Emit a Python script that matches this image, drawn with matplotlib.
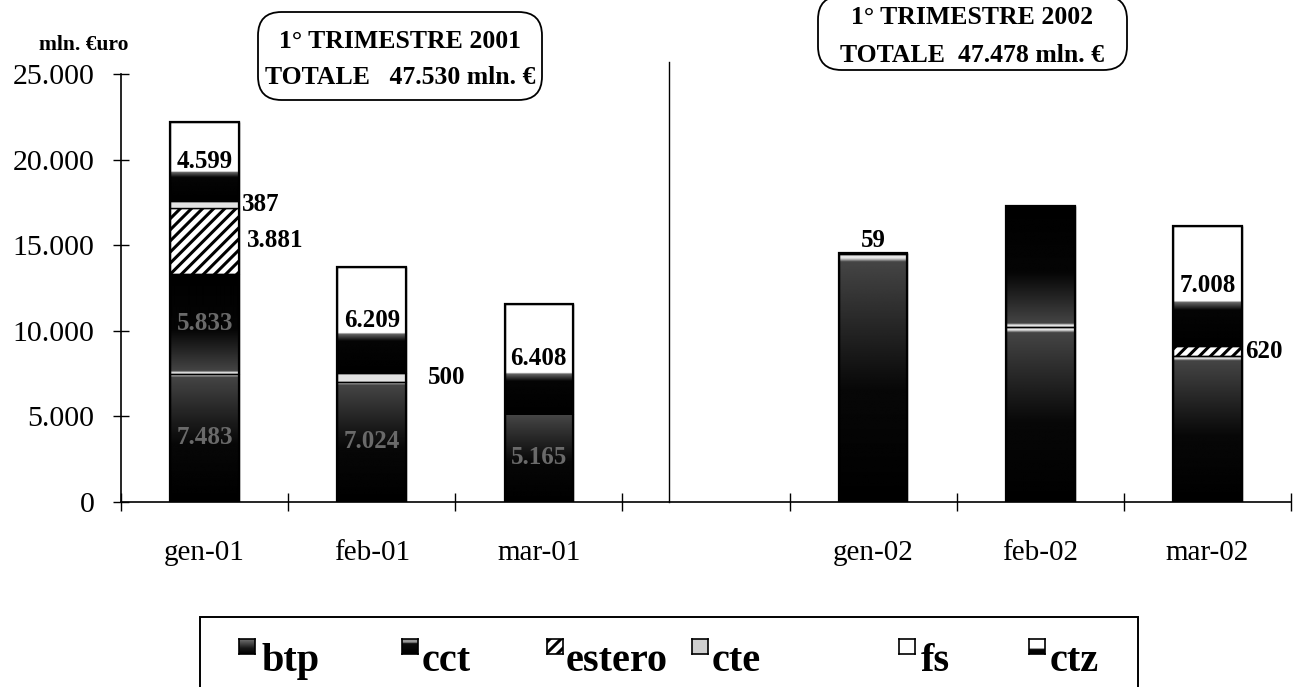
import numpy as np
import matplotlib
matplotlib.use("Agg")
import matplotlib.pyplot as plt
from matplotlib.patches import FancyBboxPatch, Rectangle
from matplotlib.ticker import FuncFormatter

# --- data (mln. euro) ---
months = ["gen-01", "feb-01", "mar-01", "", "gen-02", "feb-02", "mar-02"]
btp = [7483, 7024, 5165, 0, 14470, 10200, 8500]
cct = [5833, 0, 0, 0, 0, 7090, 0]
estero = [3881, 0, 0, 0, 0, 0, 620]
cte = [387, 500, 0, 0, 59, 0, 0]
fs = [0, 0, 0, 0, 0, 0, 0]
ctz = [4599, 6209, 6408, 0, 0, 0, 7008]

series_names = ["btp", "cct", "estero", "cte", "fs", "ctz"]
series_values = [btp, cct, estero, cte, fs, ctz]

# labels printed on the chart: (series, month index, text, where)
shown_labels = [
    ("ctz", 0, "4.599", "in"), ("cte", 0, "387", "right"), ("estero", 0, "3.881", "right2"),
    ("ctz", 1, "6.209", "in"), ("cte", 1, "500", "right3"),
    ("ctz", 2, "6.408", "in"),
    ("cte", 4, "59", "top"),
    ("ctz", 6, "7.008", "in"), ("estero", 6, "620", "right"),
]
# labels almost lost in the dark fill of the scan
faint_labels = [("btp", 0, "7.483"), ("cct", 0, "5.833"), ("btp", 1, "7.024"), ("btp", 2, "5.165")]

box_2001 = ["1° TRIMESTRE 2001", "TOTALE   47.530 mln. €"]
box_2002 = ["1° TRIMESTRE 2002", "TOTALE  47.478 mln. €"]

W, H = 1306, 687
SERIF = ["Liberation Serif", "DejaVu Serif"]
plt.rcParams["font.family"] = SERIF
plt.rcParams["hatch.linewidth"] = 2.2


def profile(kind, t):
    """grey level (0 black, 1 white) along the segment, t=0 bottom, t=1 top"""
    if kind == "btp":
        return np.interp(t, [0, 0.45, 0.97, 0.985, 1.0], [0.0, 0.03, 0.27, 0.9, 0.9])
    if kind == "cct":
        return np.interp(t, [0, 0.015, 0.03, 0.45, 1.0], [0.9, 0.9, 0.27, 0.02, 0.0])
    if kind == "ctz":
        return np.interp(t, [0, 0.30, 0.365, 0.375, 1.0], [0.0, 0.02, 0.4, 1.0, 1.0])
    return None


def fill_gradient(ax, patch, kind):
    x0, y0 = patch.get_x(), patch.get_y()
    w, h = patch.get_width(), patch.get_height()
    t = np.linspace(0, 1, 400)
    img = np.repeat(profile(kind, t)[:, None], 2, axis=1)
    im = ax.imshow(img, cmap="gray", vmin=0, vmax=1, origin="lower",
                   extent=(x0, x0 + w, y0, y0 + h), aspect="auto",
                   interpolation="bilinear", zorder=2)
    im.set_clip_path(patch)


def hide_empty(bars):
    for b in bars:
        if b.get_height() <= 0:
            b.set_visible(False)


def px(x, y):
    """pixel position (from top-left) -> figure fraction"""
    return x / W, 1 - y / H


fig = plt.figure(figsize=(W / 100, H / 100), dpi=100)
ax = fig.add_axes([121 / W, (H - 502) / H, (1291 - 121) / W, (502 - 74) / H])

x = np.arange(len(months))
width = 0.41
bottom = np.zeros(len(months))
patches = {}
for name, vals in zip(series_names, series_values):
    vals = np.array(vals, dtype=float)
    if name == "estero":
        bars = ax.bar(x, vals, width, bottom=bottom, facecolor="white",
                      edgecolor="black", hatch="///", linewidth=1, zorder=2)
    elif name == "cte":
        bars = ax.bar(x, vals, width, bottom=bottom, facecolor="#e2e2e2",
                      edgecolor="black", linewidth=1, zorder=2)
    elif name == "fs":
        bars = ax.bar(x, vals, width, bottom=bottom, facecolor="white",
                      edgecolor="black", linewidth=1, zorder=2)
    else:
        bars = ax.bar(x, vals, width, bottom=bottom, facecolor="white",
                      edgecolor="none", linewidth=0, zorder=1)
        for b in bars:
            if b.get_height() > 0:
                fill_gradient(ax, b, name)
        edges = ax.bar(x, vals, width, bottom=bottom, fill=False, edgecolor="black",
                       linewidth=1, zorder=3)
        hide_empty(edges)
    hide_empty(bars)
    patches[name] = bars
    bottom += vals

# outline of whole stacks
hide_empty(ax.bar(x, bottom, width, fill=False, edgecolor="black", linewidth=1.6, zorder=4))

for name, i, txt, where in shown_labels:
    b = patches[name][i]
    cx = b.get_x() + b.get_width() / 2
    cy = b.get_y() + b.get_height() / 2
    right = b.get_x() + b.get_width()
    kw = dict(fontsize=18, fontweight="bold", color="black", zorder=6)
    if where == "in":
        ax.text(cx, cy, txt, ha="center", va="center", **kw)
    elif where == "top":
        ax.text(cx, b.get_y() + b.get_height() + 60, txt, ha="center", va="bottom", **kw)
    elif where == "right":
        ax.text(right + 0.02, cy, txt, ha="left", va="center", **kw)
    elif where == "right2":
        ax.text(right + 0.05, cy, txt, ha="left", va="center", **kw)
    else:
        ax.text(right + 0.13, cy, txt, ha="left", va="center", **kw)

for name, i, txt in faint_labels:
    b = patches[name][i]
    ax.text(b.get_x() + b.get_width() / 2, b.get_y() + b.get_height() / 2, txt,
            ha="center", va="center", fontsize=18, fontweight="bold",
            color="#6a6a6a", zorder=6)

# divider between the two quarters
ax.plot([2.78, 2.78], [0, 25700], color="black", linewidth=1, clip_on=False, zorder=5)

ax.set_xlim(-0.5, len(months) - 0.5)
ax.set_ylim(0, 25000)
ax.set_yticks(np.arange(0, 25001, 5000))
ax.yaxis.set_major_formatter(FuncFormatter(lambda v, p: f"{int(v):,}".replace(",", ".")))
ax.set_xticks(np.arange(-0.5, len(months), 1.0))
ax.set_xticklabels([])
ax.set_xticks(x, minor=True)
ax.set_xticklabels(months, minor=True)
ax.tick_params(axis="x", which="major", direction="inout", length=13, width=1)
ax.tick_params(axis="x", which="minor", length=0, pad=27, labelsize=21)
ax.tick_params(axis="y", direction="inout", length=12, width=1, pad=13, labelsize=21.5)
for s in ("top", "right"):
    ax.spines[s].set_visible(False)
for s in ("left", "bottom"):
    ax.spines[s].set_linewidth(1.2)

fig.text(*px(84, 45), "mln. €uro", ha="center", va="center", fontsize=15.5, fontweight="bold")


def title_box(x0, y0, x1, y1, lines, ys):
    (fx0, fy1), (fx1, fy0) = px(x0, y0), px(x1, y1)
    box = FancyBboxPatch((fx0, fy0), fx1 - fx0, fy1 - fy0, transform=fig.transFigure,
                         boxstyle="round,pad=0,rounding_size=0.018", mutation_aspect=W / H,
                         facecolor="white", edgecolor="black", linewidth=1.3)
    fig.patches.append(box)
    cx = (x0 + x1) / 2
    for line, yy in zip(lines, ys):
        fig.text(*px(cx, yy), line, ha="center", va="center", fontsize=18.5, fontweight="bold")


title_box(258, 12, 542, 100, box_2001, [42, 78])
title_box(818, -4, 1127, 70, box_2002, [18, 55])

# legend frame, cut by the bottom of the page
fx0, fy0 = px(200, 700)
fx1, fy1 = px(1138, 617)
fig.patches.append(Rectangle((fx0, fy0), fx1 - fx0, fy1 - fy0, transform=fig.transFigure,
                             facecolor="white", edgecolor="black", linewidth=1.4, zorder=-1))

swatch_x = [239, 402, 547, 692, 899, 1029]
text_x = [262, 422, 566, 712, 921, 1050]
for name, sx, tx in zip(series_names, swatch_x, text_x):
    l, b = px(sx, 654)
    sax = fig.add_axes([l, b, 16 / W, 15 / H], zorder=3)
    sax.set_xlim(0, 1)
    sax.set_ylim(0, 1)
    sax.set_xticks([])
    sax.set_yticks([])
    for sp in sax.spines.values():
        sp.set_linewidth(1.2)
    if name in ("btp", "cct", "ctz"):
        t = np.linspace(0, 1, 100)
        g = profile(name, t)
        if name == "btp":
            g = np.interp(t, [0, 0.4, 1.0], [0.0, 0.1, 0.45])
        elif name == "cct":
            g = np.interp(t, [0, 0.7, 0.8, 1.0], [0.0, 0.05, 0.6, 0.6])
        img = np.repeat(g[:, None], 2, axis=1)
        sax.imshow(img, cmap="gray", vmin=0, vmax=1, origin="lower",
                   extent=(0, 1, 0, 1), aspect="auto")
    elif name == "estero":
        sax.add_patch(Rectangle((0, 0), 1, 1, facecolor="white", edgecolor="black",
                                hatch="///", linewidth=0))
    elif name == "cte":
        sax.set_facecolor("#cfcfcf")
    fig.text(*px(tx, 671), name, ha="left", va="baseline", fontsize=29, fontweight="bold")

fig.savefig("out.png", dpi=100)
